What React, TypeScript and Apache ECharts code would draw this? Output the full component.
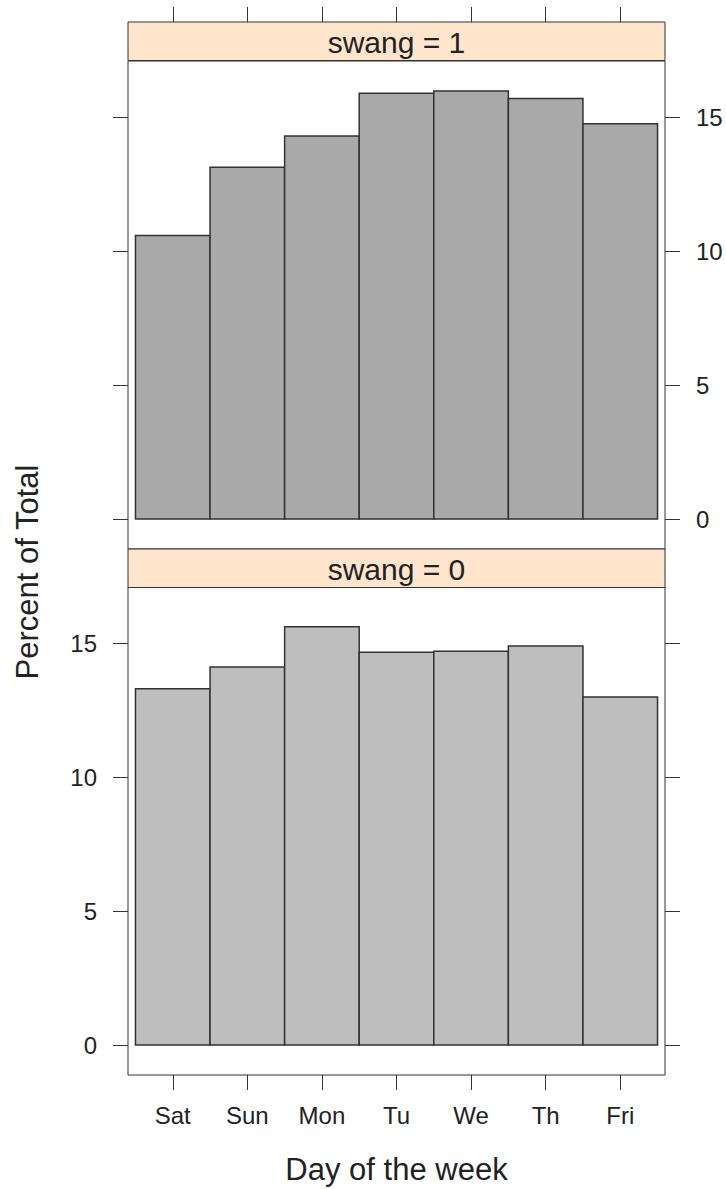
import React, { useEffect, useRef } from "react";
import * as echarts from "echarts";

const days = ["Sat", "Sun", "Mon", "Tu", "We", "Th", "Fri"];
const swang1 = [10.59, 13.14, 14.31, 15.9, 15.99, 15.71, 14.77];
const swang0 = [13.31, 14.12, 15.62, 14.67, 14.71, 14.91, 13.0];
const yTicks = [0, 5, 10, 15];
const xTicks = [1, 2, 3, 4, 5, 6, 7];
const stripLabels = ["swang = 1", "swang = 0"];

const FONT = '"Liberation Sans", Arial, Helvetica, sans-serif';
const INK = "#333";

export default function App() {
  const ref = useRef<HTMLDivElement>(null);
  useEffect(() => {
    if (!ref.current) return;
    const chart = echarts.init(ref.current, null, { renderer: "svg" });
    const m = Math.max(...swang1, ...swang0);
    const yMin = -0.07 * m;
    const yMax = 1.07 * m;

    const L = 128, W = 537, H = 488, STRIP = 38.5;
    const tops = [61, 587];

    const tick = () => ({
      show: true,
      inside: false,
      length: 15,
      lineStyle: { color: INK, width: 1 },
    });

    const yAxisDef = (grid: number, pos: string, labels: boolean) => ({
      type: "value",
      gridIndex: grid,
      position: pos,
      min: yMin,
      max: yMax,
      axisLine: { show: false, onZero: false },
      splitLine: { show: false },
      axisTick: { ...tick(), customValues: yTicks },
      axisLabel: {
        show: labels,
        customValues: yTicks,
        margin: 31,
        fontSize: 24,
        fontFamily: FONT,
        color: "#222",
      },
    });

    const xAxisDef = (grid: number, pos: string, labels: boolean, offset: number) => ({
      type: "value",
      gridIndex: grid,
      position: pos,
      offset,
      min: 0.4,
      max: 7.6,
      axisLine: { show: false, onZero: false },
      splitLine: { show: false },
      axisTick: { ...tick(), customValues: xTicks },
      axisLabel: {
        show: labels,
        customValues: xTicks,
        margin: 28,
        fontSize: 24,
        fontFamily: FONT,
        color: "#222",
        formatter: (v: number) => days[Math.round(v) - 1] ?? "",
      },
    });

    const barSeries = (vals: number[], xi: number, yi: number, fill: string) => ({
      type: "custom",
      xAxisIndex: xi,
      yAxisIndex: yi,
      data: days.map((d, i) => [i + 1, vals[i]]),
      renderItem: (params: any, api: any) => {
        const x = api.value(0);
        const y = api.value(1);
        const p0 = api.coord([x - 0.5, 0]);
        const p1 = api.coord([x + 0.5, y]);
        return {
          type: "rect",
          shape: { x: p0[0], y: p1[1], width: p1[0] - p0[0], height: p0[1] - p1[1] },
          style: { fill, stroke: INK, lineWidth: 1.5 },
        };
      },
    });

    const strips: any[] = [];
    [22, 549].forEach((y, i) => {
      strips.push({
        type: "rect",
        shape: { x: L, y, width: W, height: STRIP },
        style: { fill: "#ffe5cc", stroke: INK, lineWidth: 1 },
        z: 10,
      });
      strips.push({
        type: "text",
        x: L + W / 2,
        y: y + 20,
        z: 11,
        style: {
          text: stripLabels[i],
          font: `30px ${FONT}`,
          fill: "#222",
          align: "center",
          verticalAlign: "middle",
          textAlign: "center",
          textVerticalAlign: "middle",
        },
      });
    });

    chart.setOption({
      animation: false,
      backgroundColor: "#fff",
      grid: tops.map((t) => ({
        left: L,
        top: t,
        width: W,
        height: H,
        show: true,
        borderColor: INK,
        borderWidth: 1,
        backgroundColor: "#fff",
        containLabel: false,
      })),
      xAxis: [xAxisDef(0, "top", false, 39), xAxisDef(1, "bottom", true, 0)],
      yAxis: [
        yAxisDef(0, "left", false),
        yAxisDef(0, "right", true),
        yAxisDef(1, "left", true),
        yAxisDef(1, "right", false),
      ],
      series: [
        barSeries(swang1, 0, 0, "#a9a9a9"),
        barSeries(swang0, 1, 2, "#bebebe"),
      ],
      graphic: [
        ...strips,
        {
          type: "text",
          x: 27,
          y: 572,
          rotation: Math.PI / 2,
          style: {
            text: "Percent of Total",
            font: `31px ${FONT}`,
            fill: "#222",
            align: "center",
            verticalAlign: "middle",
            textAlign: "center",
            textVerticalAlign: "middle",
          },
        },
        {
          type: "text",
          x: L + W / 2,
          y: 1169,
          style: {
            text: "Day of the week",
            font: `31px ${FONT}`,
            fill: "#222",
            align: "center",
            verticalAlign: "middle",
            textAlign: "center",
            textVerticalAlign: "middle",
          },
        },
      ],
    });
    return () => chart.dispose();
  }, []);

  return (
    <div
      ref={ref}
      style={{ position: "absolute", left: 0, top: 0, width: 726, height: 1189, background: "#fff" }}
    />
  );
}
